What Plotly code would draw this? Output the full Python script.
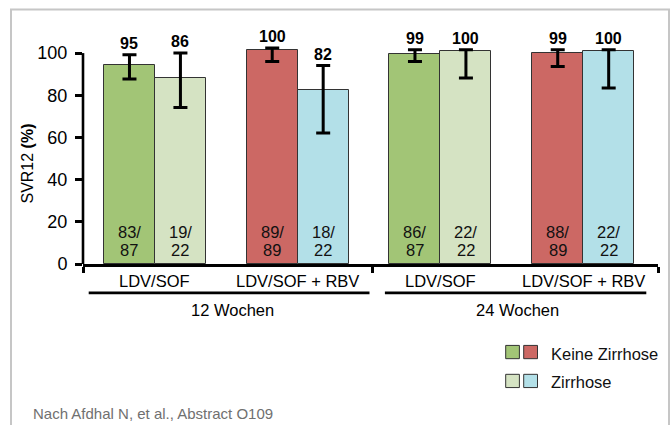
import plotly.graph_objects as go

# ---------------- data ----------------
groups = [0, 1, 2, 3]
treatments = ["LDV/SOF", "LDV/SOF + RBV", "LDV/SOF", "LDV/SOF + RBV"]
durations = ["12 Wochen", "24 Wochen"]
series_names = ["Keine Zirrhose", "Zirrhose"]

# bar heights (SVR12 %)
svr_no_cirrhosis = [94.5, 101.4, 99.7, 100.0]
svr_cirrhosis = [88.4, 82.5, 100.8, 100.8]
# confidence interval ends
ci_hi_no = [99.2, 102.4, 101.6, 101.6]
ci_lo_no = [87.7, 96.0, 96.0, 93.6]
ci_hi_yes = [100.0, 94.1, 101.6, 101.6]
ci_lo_yes = [74.2, 62.1, 88.2, 83.4]
# printed labels
label_no = ["95", "100", "99", "99"]
label_yes = ["86", "82", "100", "100"]
n_no = [("83/", "87"), ("89/", "89"), ("86/", "87"), ("88/", "89")]
n_yes = [("19/", "22"), ("18/", "22"), ("22/", "22"), ("22/", "22")]
y_ticks = [0, 20, 40, 60, 80, 100]

# ---------------- style ----------------
GREEN = "#A2C576"
LGREEN = "#D5E3C3"
RED = "#CC6864"
BLUE = "#B3E0E8"
colors_no = [GREEN, RED, GREEN, RED]
colors_yes = [LGREEN, BLUE, LGREEN, BLUE]
FONT = "Liberation Sans, Arial, Helvetica, sans-serif"
W, H = 672, 425
L, R, T, B = 83, 658, 31.5, 264.3
BW = 0.357
XR = [-0.504, 3.524]
YR = [0, 110]


def px(x):
    return (x - L) / (R - L)


def py(y):
    return (B - y) / (B - T)


fig = go.Figure()

fig.add_trace(go.Bar(
    x=groups, y=svr_no_cirrhosis, width=BW, offset=-BW,
    marker=dict(color=colors_no, line=dict(color="#333333", width=1)),
    error_y=dict(type="data", symmetric=False,
                 array=[h - v for h, v in zip(ci_hi_no, svr_no_cirrhosis)],
                 arrayminus=[v - l for l, v in zip(ci_lo_no, svr_no_cirrhosis)],
                 color="black", thickness=3, width=7),
    showlegend=False, hoverinfo="skip"))

fig.add_trace(go.Bar(
    x=groups, y=svr_cirrhosis, width=BW, offset=0,
    marker=dict(color=colors_yes, line=dict(color="#333333", width=1)),
    error_y=dict(type="data", symmetric=False,
                 array=[h - v for h, v in zip(ci_hi_yes, svr_cirrhosis)],
                 arrayminus=[v - l for l, v in zip(ci_lo_yes, svr_cirrhosis)],
                 color="black", thickness=3, width=7),
    showlegend=False, hoverinfo="skip"))

ann = []
# value labels and n labels
for i, g in enumerate(groups):
    for xc, hi, lab, nn in ((g - BW / 2, ci_hi_no[i], label_no[i], n_no[i]),
                            (g + BW / 2, ci_hi_yes[i], label_yes[i], n_yes[i])):
        ann.append(dict(x=xc, y=hi, xref="x", yref="y", text="<b>%s</b>" % lab,
                        showarrow=False, yanchor="middle", yshift=11.5,
                        font=dict(size=16, color="black", family=FONT)))
        ann.append(dict(x=xc, y=0, xref="x", yref="y", text=nn[0],
                        showarrow=False, yanchor="middle", yshift=32,
                        font=dict(size=16.5, color="#111111", family=FONT)))
        ann.append(dict(x=xc, y=0, xref="x", yref="y", text=nn[1],
                        showarrow=False, yanchor="middle", yshift=14.3,
                        font=dict(size=16.5, color="#111111", family=FONT)))

# category labels
for g, t in zip(groups, treatments):
    ann.append(dict(x=g, y=py(281.7), xref="x", yref="paper", text=t,
                    showarrow=False, yanchor="middle",
                    font=dict(size=16.5, color="black", family=FONT)))
for d, xc in zip(durations, (232.7, 517.7)):
    ann.append(dict(x=px(xc), y=py(310.7), xref="paper", yref="paper", text=d,
                    showarrow=False, yanchor="middle", xanchor="center",
                    font=dict(size=16.5, color="black", family=FONT)))

# y title
ann.append(dict(x=px(27.5), y=py(164), xref="paper", yref="paper",
                text="SVR12 <b>(%)</b>", textangle=-90, showarrow=False,
                xanchor="center", yanchor="middle",
                font=dict(size=16, color="black", family=FONT)))

# legend
ann.append(dict(x=px(548.6), y=py(355), xref="paper", yref="paper",
                text=series_names[0], showarrow=False, xanchor="left", yanchor="middle",
                font=dict(size=16.5, color="#111111", family=FONT)))
ann.append(dict(x=px(548.6), y=py(382.7), xref="paper", yref="paper",
                text=series_names[1], showarrow=False, xanchor="left", yanchor="middle",
                font=dict(size=16.5, color="#111111", family=FONT)))

# footnote
ann.append(dict(x=px(30.9), y=py(414), xref="paper", yref="paper",
                text="Nach Afdhal N, et al., Abstract O109", showarrow=False,
                xanchor="left", yanchor="middle",
                font=dict(size=15, color="#707070", family=FONT)))

shapes = []
# frame
shapes.append(dict(type="rect", xref="paper", yref="paper",
                   x0=px(11), x1=px(669), y0=py(9), y1=py(440),
                   line=dict(color="#c6c6c6", width=2), layer="below"))
# y axis line up to 100
shapes.append(dict(type="line", xref="paper", yref="y", x0=0, x1=0,
                   y0=0, y1=100, line=dict(color="black", width=2.6)))
# duration underlines
for x0, x1 in ((88.7, 369.5), (384.9, 646.3)):
    shapes.append(dict(type="line", xref="paper", yref="paper",
                       x0=px(x0), x1=px(x1), y0=py(293.3), y1=py(293.3),
                       line=dict(color="black", width=2.6)))
# legend squares
for (x0, x1), (c1, c2) in (((505.7, 519.4), (GREEN, LGREEN)), ((523.7, 537.5), (RED, BLUE))):
    shapes.append(dict(type="rect", xref="paper", yref="paper",
                       x0=px(x0), x1=px(x1), y0=py(359.3), y1=py(346),
                       fillcolor=c1, line=dict(color="#333333", width=1)))
    shapes.append(dict(type="rect", xref="paper", yref="paper",
                       x0=px(x0), x1=px(x1), y0=py(388.3), y1=py(375),
                       fillcolor=c2, line=dict(color="#333333", width=1)))

fig.update_layout(
    width=W, height=H,
    margin=dict(l=L, r=W - R, t=T, b=H - B, pad=0),
    paper_bgcolor="white", plot_bgcolor="white",
    barmode="overlay", bargap=0,
    annotations=ann, shapes=shapes,
    font=dict(family=FONT, color="black"),
    xaxis=dict(range=XR, showgrid=False, zeroline=False, showline=True,
               linecolor="black", linewidth=2.6, ticks="outside",
               tickvals=[XR[0], 1.526, XR[1]], ticktext=["", "", ""],
               ticklen=6, tickwidth=2.6, tickcolor="black"),
    yaxis=dict(range=YR, showgrid=False, zeroline=False, showline=False,
               ticks="outside", tickvals=y_ticks, ticklen=7, tickwidth=2.6,
               tickcolor="black", ticklabelstandoff=4,
               tickfont=dict(size=18, color="black", family=FONT)),
)

fig.write_html("out.html", config={"displayModeBar": False},
               post_script="document.body.style.margin='0';")
